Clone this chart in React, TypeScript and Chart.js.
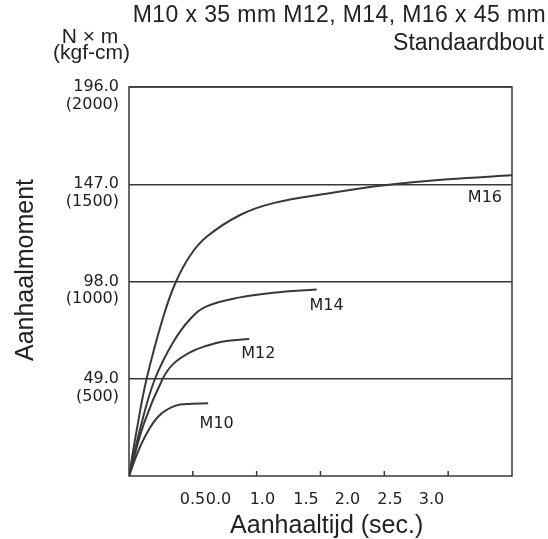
import React, { useEffect, useRef } from "react";
import { Chart, registerables } from "chart.js";

Chart.register(...registerables);

// ---- data ----
const m10X = [0, 0.06, 0.125, 0.23, 0.36, 0.49, 0.62];
const m10Y = [0, 10.5, 19.8, 30, 35.3, 36.4, 36.6];

const m12X = [0, 0.12, 0.264, 0.347, 0.478, 0.608, 0.738, 0.942];
const m12Y = [0, 27, 49, 56.5, 62.3, 65.6, 67.8, 69];

const m14X = [0, 0.1, 0.204, 0.347, 0.478, 0.608, 0.87, 1.13, 1.47];
const m14Y = [0, 27, 49, 67.5, 79, 85.5, 90, 92.3, 94];

const m16X = [0, 0.06, 0.138, 0.27, 0.365, 0.478, 0.608, 0.87, 1.13, 1.57, 2.0, 2.5, 3.0];
const m16Y = [0, 23, 49, 80.5, 97.5, 111, 120.5, 131.5, 137.5, 142.5, 146.5, 149.5, 151.5];

const seriesNames = ["M10", "M12", "M14", "M16"];
const seriesX = [m10X, m12X, m14X, m16X];
const seriesY = [m10Y, m12Y, m14Y, m16Y];
// label anchors (data units)
const labelX = [0.687, 1.013, 1.547, 2.788];
const labelY = [26.1, 61.4, 85.7, 140];

const yTickValues = [49, 98, 147, 196];
const yTickNm = ["49.0", "98.0", "147.0", "196.0"];
const yTickKgf = ["(500)", "(1000)", "(1500)", "(2000)"];

const xTickMarks = [0.5, 1.0, 1.5, 2.0, 2.5];
const xTickLabels = ["0.5", "0.0", "1.0", "1.5", "2.0", "2.5", "3.0"];
const xTickLabelAt = [0.497, 0.701, 1.045, 1.386, 1.711, 2.044, 2.37];

const titleLines = ["M10 x 35 mm M12, M14, M16 x 45 mm", "Standaardbout"];
const unitLines = ["N \u00d7 m", "(kgf-cm)"];
const xTitle = "Aanhaaltijd (sec.)";
const yTitle = "Aanhaalmoment";

const LINE = "#383838";
const TEXT = "#222222";
const W = 548;
const H = 539;

const decor = {
  id: "decor",
  afterDraw(chart: any) {
    const { ctx, chartArea: a, scales } = chart;
    const xs = scales.x;
    const ys = scales.y;
    ctx.save();
    ctx.strokeStyle = LINE;
    ctx.lineWidth = 1.5;
    ctx.strokeRect(a.left, a.top, a.right - a.left, a.bottom - a.top);
    ctx.beginPath();
    xTickMarks.forEach((v) => {
      const px = xs.getPixelForValue(v);
      ctx.moveTo(px, a.bottom);
      ctx.lineTo(px, a.bottom - 5);
    });
    ctx.stroke();

    ctx.fillStyle = TEXT;
    ctx.font = "16px 'DejaVu Sans'";
    ctx.textAlign = "center";
    ctx.textBaseline = "middle";
    seriesNames.forEach((n, i) => {
      ctx.fillText(n, xs.getPixelForValue(labelX[i]), ys.getPixelForValue(labelY[i]));
    });

    ctx.textBaseline = "alphabetic";
    ctx.textAlign = "right";
    ctx.font = "23px 'Liberation Sans'";
    const anyCtx = ctx as any;
    if ("letterSpacing" in anyCtx) anyCtx.letterSpacing = "0.4px";
    ctx.fillText(titleLines[0], chart.width - 2, 21.5);
    if ("letterSpacing" in anyCtx) anyCtx.letterSpacing = "0px";
    ctx.fillText(titleLines[1], chart.width - 4, 50);

    ctx.textAlign = "center";
    ctx.font = "21px 'Liberation Sans'";
    ctx.fillText(unitLines[0], 90, 43);
    ctx.fillText(unitLines[1], 91.5, 59);

    ctx.font = "25px 'Liberation Sans'";
    ctx.fillText(xTitle, 326.7, 533);

    ctx.translate(33, 270);
    ctx.rotate(-Math.PI / 2);
    ctx.fillText(yTitle, 0, 0);
    ctx.restore();
  },
};

export default function App() {
  const ref = useRef<HTMLCanvasElement | null>(null);

  useEffect(() => {
    if (!ref.current) return;
    Chart.defaults.font.family = "'DejaVu Sans'";
    const chart = new Chart(ref.current, {
      type: "line",
      data: {
        datasets: seriesNames.map((name, s) => ({
          label: name,
          data: seriesX[s].map((x, i) => ({ x, y: seriesY[s][i] })),
          borderColor: LINE,
          borderWidth: 2,
          pointRadius: 0,
          fill: false,
          tension: 0.4,
        })),
      },
      options: {
        animation: false,
        responsive: false,
        layout: { padding: { top: 87, right: 36, left: 0, bottom: 0 } },
        plugins: { legend: { display: false }, tooltip: { enabled: false } },
        scales: {
          x: {
            type: "linear",
            min: 0,
            max: 3,
            afterBuildTicks: (s: any) => {
              s.ticks = xTickLabelAt.map((v) => ({ value: v }));
            },
            afterFit: (s: any) => {
              s.height = H - 476;
            },
            ticks: {
              callback: (_v: any, i: number) => xTickLabels[i],
              font: { family: "'DejaVu Sans'", size: 16 },
              color: TEXT,
              padding: 6,
              maxRotation: 0,
              autoSkip: false,
            },
            grid: { display: false },
            border: { display: false },
          },
          y: {
            type: "linear",
            min: 0,
            max: 196,
            afterBuildTicks: (s: any) => {
              s.ticks = yTickValues.map((v) => ({ value: v }));
            },
            afterFit: (s: any) => {
              s.width = 129;
            },
            ticks: {
              callback: (_v: any, i: number) => ["", yTickNm[i], yTickKgf[i]],
              font: { family: "'DejaVu Sans'", size: 16, lineHeight: 1.1 },
              color: TEXT,
              padding: 10,
              autoSkip: false,
            },
            grid: { color: LINE, lineWidth: 1.5, drawTicks: false },
            border: { display: false },
          },
        },
      } as any,
      plugins: [decor],
    });
    return () => chart.destroy();
  }, []);

  return (
    <div style={{ position: "absolute", left: 0, top: 0, width: W, height: H, background: "#fff" }}>
      <canvas ref={ref} width={W} height={H} style={{ display: "block", width: W, height: H }} />
    </div>
  );
}
